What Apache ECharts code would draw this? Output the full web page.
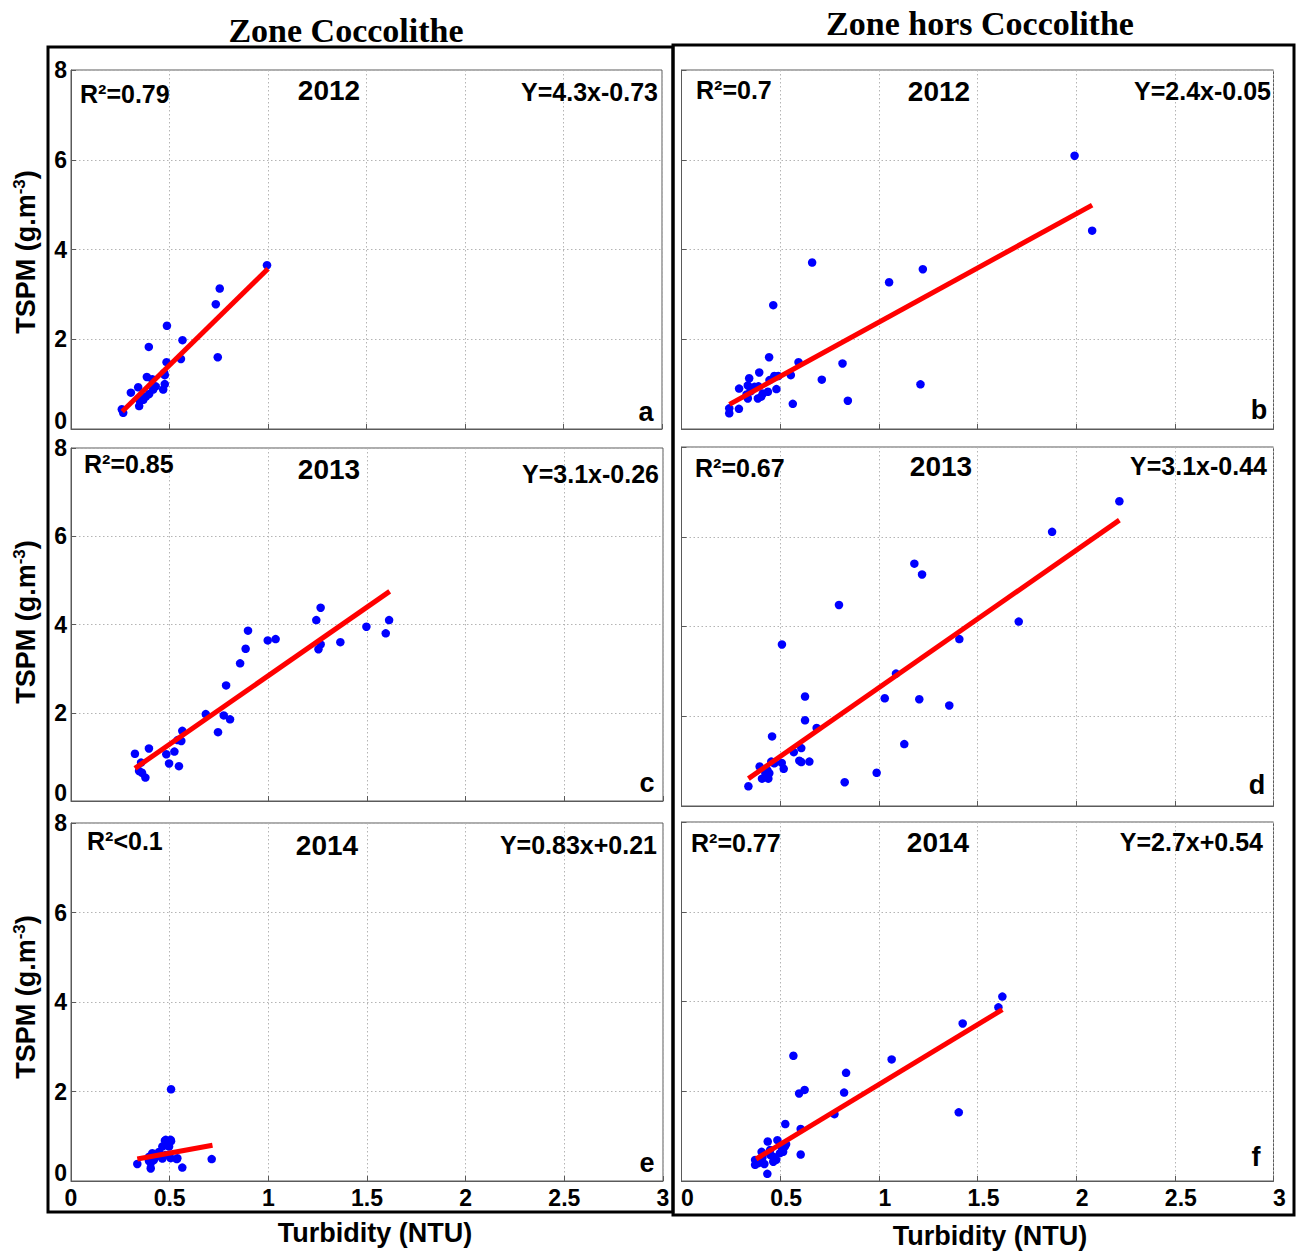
<!DOCTYPE html>
<html><head><meta charset="utf-8">
<script src="https://cdn.jsdelivr.net/npm/echarts@6/dist/echarts.min.js"></script>
<style>html,body{margin:0;padding:0;background:#fff}#c{width:1296px;height:1253px}</style>
</head><body><div id="c"></div>
<script>
// ---- data ----
const zoneTitles = ['Zone Coccolithe', 'Zone hors Coccolithe'];
const years = ['2012', '2012', '2013', '2013', '2014', '2014'];
const r2Labels = ['R²=0.79', 'R²=0.7', 'R²=0.85', 'R²=0.67', 'R²<0.1', 'R²=0.77'];
const eqLabels = ['Y=4.3x-0.73', 'Y=2.4x-0.05', 'Y=3.1x-0.26', 'Y=3.1x-0.44', 'Y=0.83x+0.21', 'Y=2.7x+0.54'];
const panelLetters = ['a', 'b', 'c', 'd', 'e', 'f'];
const yTitle = 'TSPM (g.m';
const ySup = '-3';
const xTitle = 'Turbidity (NTU)';

const ptsA = [[0.258,0.44],[0.265,0.36],[0.304,0.81],[0.341,0.93],[0.346,0.51],[0.363,0.71],[0.367,0.65],[0.385,1.16],[0.395,1.83],[0.397,0.78],[0.412,1.11],[0.417,0.88],[0.43,0.95],[0.468,0.88],[0.476,1.0],[0.476,1.20],[0.485,1.49],[0.487,2.30],[0.558,1.56],[0.566,1.98],[0.735,2.78],[0.745,1.60],[0.755,3.13],[0.995,3.65],[0.38,0.72],[0.35,0.62],[0.473,1.25]];
const ptsB = [[1.992,6.09],[2.081,4.42],[0.662,3.71],[1.223,3.56],[1.052,3.27],[0.465,2.76],[0.444,1.60],[0.593,1.49],[0.816,1.46],[0.394,1.26],[0.554,1.20],[0.711,1.10],[1.211,0.995],[0.481,0.89],[0.843,0.63],[0.564,0.56],[0.343,1.13],[0.292,0.90],[0.242,0.35],[0.242,0.46],[0.291,0.45],[0.47,1.18],[0.49,1.18],[0.446,1.09],[0.438,0.83],[0.387,0.68],[0.336,0.68],[0.37,0.94],[0.336,0.97],[0.412,0.79],[0.33,0.77],[0.404,0.72],[0.39,0.95],[0.35,0.84]];
const ptsC = [[1.612,4.10],[1.595,3.80],[1.497,3.95],[1.365,3.60],[1.265,4.38],[1.243,4.10],[1.265,3.55],[1.254,3.44],[1.037,3.67],[0.997,3.64],[0.897,3.86],[0.885,3.45],[0.857,3.12],[0.786,2.62],[0.806,1.85],[0.774,1.94],[0.683,1.97],[0.745,1.56],[0.564,1.59],[0.559,1.36],[0.54,1.38],[0.524,1.12],[0.483,1.06],[0.497,0.85],[0.547,0.79],[0.395,1.19],[0.324,1.07],[0.355,0.87],[0.345,0.68],[0.36,0.64],[0.377,0.53]];
const ptsD = [[2.219,6.79],[1.878,6.11],[1.180,5.40],[1.219,5.16],[0.798,4.48],[1.709,4.11],[1.408,3.72],[0.509,3.60],[1.087,2.95],[0.626,2.44],[1.030,2.40],[1.205,2.38],[1.357,2.24],[0.626,1.91],[0.685,1.74],[0.459,1.55],[1.129,1.38],[0.607,1.29],[0.569,1.20],[0.597,1.01],[0.607,0.98],[0.648,0.99],[0.508,0.96],[0.518,0.83],[0.989,0.74],[0.827,0.53],[0.396,0.88],[0.455,0.99],[0.47,0.95],[0.445,0.73],[0.408,0.61],[0.44,0.61],[0.425,0.73],[0.339,0.44],[0.435,0.80]];
const ptsE = [[0.507,2.05],[0.713,0.49],[0.564,0.30],[0.336,0.38],[0.476,0.90],[0.507,0.89],[0.536,0.49],[0.404,0.28],[0.480,0.92],[0.505,0.92],[0.497,0.77],[0.463,0.77],[0.446,0.65],[0.412,0.62],[0.395,0.54],[0.42,0.47],[0.404,0.40],[0.539,0.51],[0.505,0.51],[0.48,0.58],[0.44,0.56],[0.463,0.50],[0.395,0.45]];
const ptsF = [[1.626,4.11],[1.606,3.87],[1.425,3.51],[1.405,1.53],[1.065,2.71],[0.834,2.41],[0.824,1.97],[0.775,1.49],[0.567,2.79],[0.624,2.03],[0.596,1.95],[0.604,1.16],[0.604,0.59],[0.526,1.27],[0.437,0.88],[0.486,0.91],[0.435,0.16],[0.373,0.36],[0.38,0.43],[0.406,0.65],[0.41,0.52],[0.449,0.69],[0.465,0.54],[0.48,0.47],[0.499,0.62],[0.524,0.77],[0.515,0.65],[0.53,0.82],[0.465,0.43],[0.39,0.40],[0.373,0.47],[0.42,0.38],[0.45,0.58],[0.51,0.72]];

const fitA = [[0.26,0.39],[1.0,3.57]];
const fitB = [[0.243,0.55],[2.081,4.99]];
const fitC = [[0.324,0.74],[1.615,4.75]];
const fitD = [[0.339,0.61],[2.219,6.37]];
const fitE = [[0.336,0.49],[0.717,0.80]];
const fitF = [[0.378,0.49],[1.626,3.82]];

const points = [ptsA, ptsB, ptsC, ptsD, ptsE, ptsF];
const fits = [fitA, fitB, fitC, fitD, fitE, fitF];

// ---- layout ----
const G = [
  {left:71, top:70, width:591, height:359},
  {left:681.5, top:70, width:592, height:359},
  {left:71, top:448, width:592, height:353},
  {left:681.5, top:447, width:592, height:359},
  {left:71, top:823, width:592, height:358},
  {left:681.5, top:822, width:592, height:359}
];
const SANS = '"Liberation Sans", Arial, sans-serif';
const SERIF = '"Liberation Serif", "Times New Roman", serif';
const gray = '#5a5a5a';

const grid = G.map(g => Object.assign({show:true, borderColor:gray, borderWidth:1, backgroundColor:'#fff', containLabel:false}, g));
const xAxis = G.map((g,i) => ({
  gridIndex:i, type:'value', min:0, max:3, interval:0.5,
  axisLine:{show:true, onZero:false, lineStyle:{color:gray, width:1}},
  axisTick:{show:true, inside:true, length:5, lineStyle:{color:gray}},
  axisLabel:{show:i>=4, color:'#000', fontFamily:SANS, fontWeight:'bold', fontSize:23, margin:5,
             padding: i===5 ? [0,0,0,12] : 0},
  splitLine:{show:true, lineStyle:{type:[1.5,2.5], color:'#b4b4b4', width:1}}
}));
const yAxis = G.map((g,i) => ({
  gridIndex:i, type:'value', min:0, max:8, interval:2,
  axisLine:{show:true, onZero:false, lineStyle:{color:gray, width:1}},
  axisTick:{show:true, inside:true, length:5, lineStyle:{color:gray}},
  axisLabel:{show:i%2===0, color:'#000', fontFamily:SANS, fontWeight:'bold', fontSize:23, margin:4,
    formatter: v => v === 0 ? '{z|0}' : String(v),
    rich:{z:{fontFamily:SANS, fontWeight:'bold', fontSize:23, color:'#000', padding:[0,0,16,0]}}},
  splitLine:{show:true, lineStyle:{type:[1.5,2.5], color:'#b4b4b4', width:1}}
}));

const series = [];
points.forEach((p,i) => {
  series.push({type:'scatter', xAxisIndex:i, yAxisIndex:i, data:p, symbol:'circle', symbolSize:8.5,
    itemStyle:{color:'#0000ff', opacity:1}, z:2});
  series.push({type:'line', xAxisIndex:i, yAxisIndex:i, data:fits[i], showSymbol:false, symbol:'none',
    lineStyle:{color:'#ff0000', width:5, cap:'butt'}, z:3});
});

// ---- annotation text ----
const T = (text, x, y, size, align, vAlign, font, extra) => Object.assign({
  type:'text', x:x, y:y, z:100,
  style:{text:text, fill:'#000', font:'bold '+size+'px '+(font||SANS),
         textAlign:align, textVerticalAlign:vAlign, align:align, verticalAlign:vAlign}
}, extra||{});

const pos = [
  {r2:[80,94], yr:[329,90], eq:[658,92], lt:[646,412]},
  {r2:[696,90], yr:[939,91], eq:[1271,91], lt:[1259,410]},
  {r2:[84,464], yr:[329,469], eq:[659,474], lt:[647,783]},
  {r2:[695,468], yr:[941,466], eq:[1267,466], lt:[1257,785]},
  {r2:[87,841], yr:[327,845], eq:[657,845], lt:[647,1163]},
  {r2:[691,843], yr:[938,842], eq:[1263,842], lt:[1256,1157]}
];
const graphic = [];
graphic.push({type:'rect', z:90, shape:{x:48, y:47, width:625, height:1165}, style:{fill:'none', stroke:'#000', lineWidth:3}});
graphic.push({type:'rect', z:90, shape:{x:673, y:45, width:621, height:1170}, style:{fill:'none', stroke:'#000', lineWidth:3}});
graphic.push(T(zoneTitles[0], 346, 30, 34, 'center', 'middle', SERIF));
graphic.push(T(zoneTitles[1], 980, 23, 34, 'center', 'middle', SERIF));
pos.forEach((p,i) => {
  graphic.push(T(r2Labels[i], p.r2[0], p.r2[1], 25, 'left', 'middle'));
  graphic.push(T(years[i], p.yr[0], p.yr[1], 28, 'center', 'middle'));
  graphic.push(T(eqLabels[i], p.eq[0], p.eq[1], 25, 'right', 'middle'));
  graphic.push(T(panelLetters[i], p.lt[0], p.lt[1], 27, 'center', 'middle'));
});
[252, 622, 997].forEach(cy => {
  graphic.push({type:'text', x:26, y:cy, rotation:Math.PI/2, z:100,
    style:{text:yTitle + '{s|' + ySup + '}{n|)}', fill:'#000', font:'bold 27px '+SANS,
      textAlign:'center', textVerticalAlign:'middle', align:'center', verticalAlign:'middle',
      rich:{s:{font:'bold 17px '+SANS, fill:'#000', verticalAlign:'top', lineHeight:30},
            n:{font:'bold 27px '+SANS, fill:'#000', lineHeight:30}}}});
});
graphic.push(T(xTitle, 375, 1233, 27, 'center', 'middle'));
graphic.push(T(xTitle, 990, 1236, 27, 'center', 'middle'));

const chart = echarts.init(document.getElementById('c'), null, {renderer:'svg', width:1296, height:1253});
chart.setOption({animation:false, backgroundColor:'#fff', grid, xAxis, yAxis, series, graphic});
</script></body></html>
